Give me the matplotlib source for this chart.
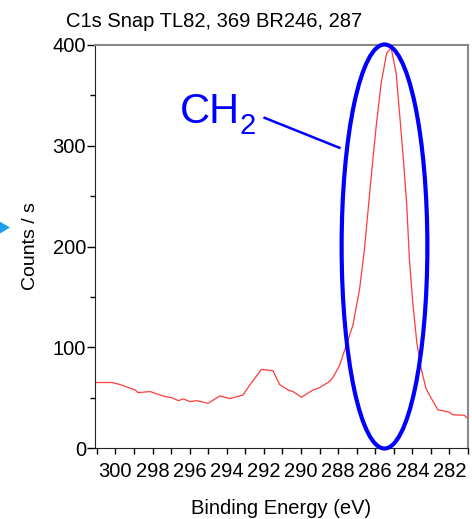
import numpy as np
import matplotlib
matplotlib.use("Agg")
import matplotlib.pyplot as plt
from matplotlib.patches import Ellipse, Polygon
from matplotlib.ticker import MultipleLocator

plt.rcParams['font.family'] = ['Liberation Sans', 'DejaVu Sans']

# C1s spectrum (binding energy in eV, counts / s)
energy = [301.09, 300.19, 299.75, 298.94, 298.78, 298.13, 297.33, 296.97, 296.61,
          296.34, 295.98, 295.62, 295.00, 294.37, 293.83, 293.12, 292.76, 292.13,
          291.51, 291.15, 290.70, 290.43, 289.98, 289.35, 288.99, 288.46, 288.28,
          287.92, 287.56, 287.20, 286.84, 286.58, 286.34, 286.16, 285.95, 285.68,
          285.38, 285.14, 284.87, 284.66, 284.48, 284.30, 284.16, 283.98, 283.76,
          283.53, 283.26, 283.08, 282.63, 282.00, 281.83, 281.20, 281.04]
counts = [65, 65, 63, 57.6, 55, 56, 51, 50, 47,
          48.7, 46, 47, 44.4, 51.7, 49, 52.7, 62.5, 78,
          76.7, 63, 57.6, 56, 50.4, 57.6, 60, 66, 70,
          82, 102, 122, 158, 197, 245, 280, 319, 362,
          392, 397, 372, 326, 286, 241, 188, 145, 105,
          79, 59, 52.7, 38, 35.5, 33, 32.5, 29.6]

title = "C1s Snap TL82, 369 BR246, 287"

fig = plt.figure(figsize=(4.72, 5.19), dpi=100)
ax = fig.add_axes([95/472, 1-448/519, (468-95)/472, (448-45)/519])

ax.plot(energy, counts, color="#ff3b3b", lw=0.9)

ax.set_xlim(301.1, 281.0)
ax.set_ylim(0, 400)
ax.xaxis.set_major_locator(MultipleLocator(2))
ax.xaxis.set_minor_locator(MultipleLocator(1))
ax.yaxis.set_major_locator(MultipleLocator(100))
ax.yaxis.set_minor_locator(MultipleLocator(50))
ax.tick_params(axis="x", which="both", length=4.5, width=1, pad=5.5, labelsize=14.5)
ax.tick_params(axis="y", which="major", length=5.5, width=1, pad=1, labelsize=14.5)
ax.tick_params(axis="y", which="minor", length=3.5, width=1)

for s in ["left", "bottom"]:
    ax.spines[s].set_color("#222222")
for s in ["top", "right"]:
    ax.spines[s].set_color("#888888")
    ax.spines[s].set_linewidth(1.5)

ax.set_xlabel("Binding Energy (eV)", fontsize=14.5, labelpad=13)
ax.set_ylabel("Counts / s", fontsize=14, labelpad=10)

fig.text(66/472, 1-26.7/519, title, fontsize=14.5, ha="left", va="baseline")

# highlight the CH2 peak
ell = Ellipse((285.5, 200), width=4.62, height=401, fill=False,
              edgecolor="#0000ff", lw=3, clip_on=False, zorder=5)
ax.add_patch(ell)
ax.text(296.51, 322.7, "CH", fontsize=30, color="#0000ff", va="baseline")
ax.text(293.3, 311.8, "2", fontsize=21, color="#0000ff", va="baseline")
ax.plot([291.96, 287.93], [327.7, 298], color="#0000ff", lw=1.8)

# arrow head cut at the left edge
fig.patches.append(Polygon([[0, 1-221.7/519], [10/472, 1-227.5/519], [0, 1-233.5/519]],
                           closed=True, transform=fig.transFigure,
                           facecolor="#1ea0e8", edgecolor="none"))

fig.savefig("out.png", dpi=100)
